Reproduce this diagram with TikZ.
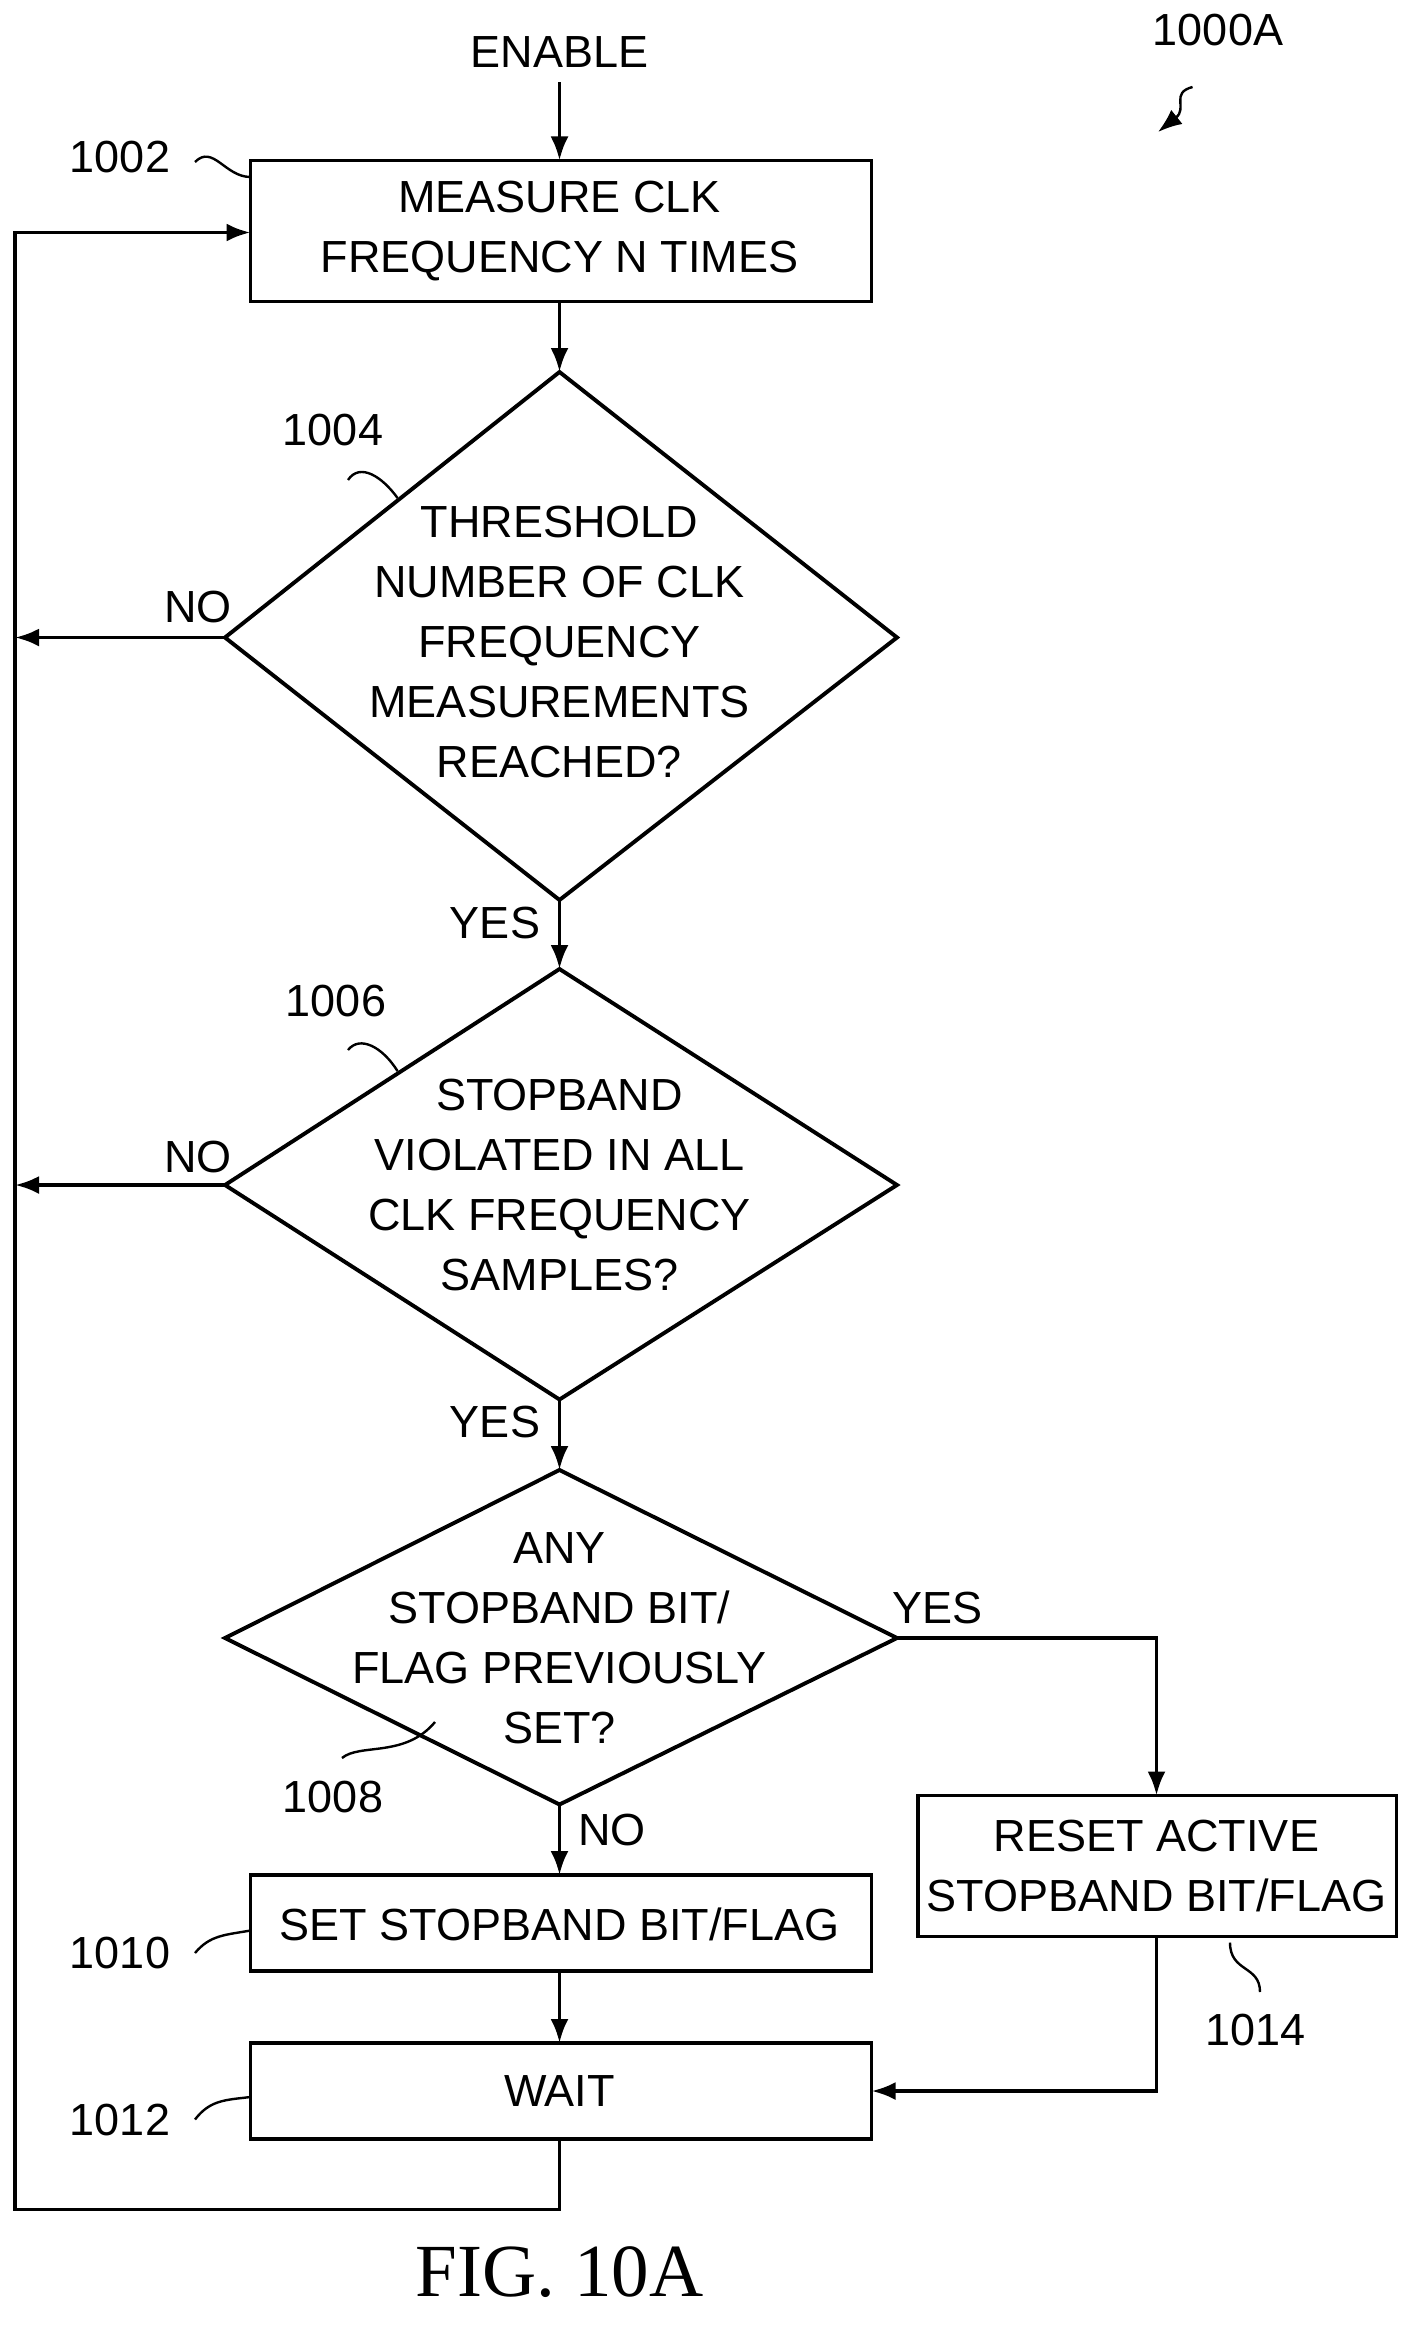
\documentclass[tikz,border=0pt]{standalone}
\usepackage{fontspec}
\setmainfont{Liberation Sans}
\newfontfamily\figfont{Liberation Serif}
\usetikzlibrary{arrows.meta}
\begin{document}
\begin{tikzpicture}[x=1pt,y=-1pt,line width=2.6pt,
  every node/.style={font=\fontsize{30}{40}\selectfont,align=center,inner sep=0},
  arr/.style={-{Latex[length=16pt,width=12pt]}},
  sq/.style={line width=1.6pt},
  box/.style={draw,line width=2.6pt}]
\useasboundingbox (0,0) rectangle (937,1552);
\node (en) at (373,35) {ENABLE};
\node (fig) at (373,1515) {\figfont\fontsize{50}{55}\selectfont FIG. 10A};
\node (id) at (812,20) {1000A};
\coordinate (ida) at (772,88);
\draw[arr,sq] (795,58) .. controls (780,62) and (792,72) .. (ida);
% boxes
\draw[box] (167,107) rectangle (581,201);
\node (b1) at (373,154) {MEASURE CLK\\FREQUENCY N TIMES};
\draw[box] (612,1197) rectangle (931,1291);
\node (b14) at (771,1244) {RESET ACTIVE\\STOPBAND BIT/FLAG};
\draw[box] (167,1250) rectangle (581,1314);
\node (b10) at (373,1283) {SET STOPBAND BIT/FLAG};
\draw[box] (167,1362) rectangle (581,1426);
\node (b12) at (373,1394) {WAIT};
% diamonds
\draw (373,248) coordinate (d1t) -- (598,425) coordinate (d1r) -- (373,600) coordinate (d1b) -- (150,425) coordinate (d1l) -- cycle;
\node (d1) at (373,428) {THRESHOLD\\NUMBER OF CLK\\FREQUENCY\\MEASUREMENTS\\REACHED?};
\draw (373,646) coordinate (d2t) -- (598,790) coordinate (d2r) -- (373,933) coordinate (d2b) -- (150,790) coordinate (d2l) -- cycle;
\node (d2) at (373,790) {STOPBAND\\VIOLATED IN ALL\\CLK FREQUENCY\\SAMPLES?};
\draw (373,980) coordinate (d3t) -- (598,1092) coordinate (d3r) -- (373,1203) coordinate (d3b) -- (150,1092) coordinate (d3l) -- cycle;
\node (d3) at (373,1092) {ANY\\STOPBAND BIT/\\FLAG PREVIOUSLY\\SET?};
% connectors
\coordinate (ent) at (373,55);
\draw[arr] (ent) -- (373,107);
\draw[arr] (373,201) -- (d1t);
\draw[arr] (d1b) -- (d2t);
\draw[arr] (d2b) -- (d3t);
\draw[arr] (d3b) -- (373,1250);
\draw[arr] (373,1314) -- (373,1362);
\coordinate (l1) at (10,425);
\coordinate (l2) at (10,790);
\draw[arr] (d1l) -- (l1);
\draw[arr] (d2l) -- (l2);
\draw[arr] (373,1426) -- (373,1473) -- (10,1473) -- (10,155) -- (167,155);
\draw[arr] (d3r) -- (771,1092) -- (771,1197);
\draw[arr] (771,1291) -- (771,1394) -- (581,1394);
\node at (132,405) {NO};
\node at (132,771) {NO};
\node at (330,615) {YES};
\node at (330,948) {YES};
\node at (625,1072) {YES};
\node at (408,1220) {NO};
% reference labels
\node (r2) at (80,105) {1002};
\draw[sq] (130,108) .. controls (142,96) and (150,118) .. (167,118);
\node (r4) at (222,287) {1004};
\draw[sq] (232,320) .. controls (240,308) and (255,318) .. (265,332);
\node (r6) at (224,667) {1006};
\draw[sq] (232,700) .. controls (240,690) and (255,698) .. (265,714);
\node (r8) at (222,1198) {1008};
\draw[sq] (228,1172) .. controls (240,1162) and (270,1172) .. (290,1148);
\node (r10) at (80,1302) {1010};
\draw[sq] (130,1302) .. controls (140,1290) and (150,1290) .. (167,1287);
\node (r12) at (80,1413) {1012};
\draw[sq] (130,1413) .. controls (140,1400) and (150,1400) .. (167,1398);
\node (r14) at (837,1353) {1014};
\draw[sq] (820,1295) .. controls (820,1315) and (840,1310) .. (840,1328);
\end{tikzpicture}
\end{document}
